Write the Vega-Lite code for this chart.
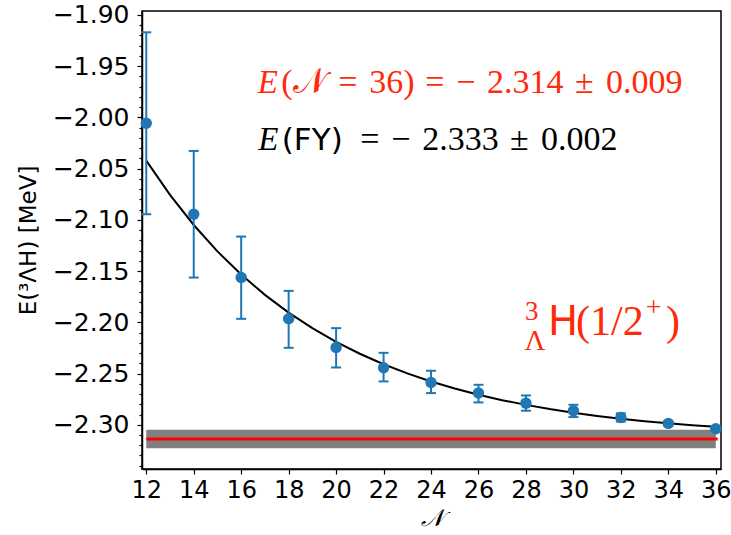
{
  "$schema": "https://vega.github.io/schema/vega-lite/v6.json",
  "width": 579,
  "height": 458,
  "autosize": {"type": "none"},
  "padding": {"left": 142, "top": 11, "right": 10, "bottom": 66},
  "background": "white",
  "data": {"values": [{}]},
  "config": {
    "view": {"stroke": "black", "strokeWidth": 1.5},
    "axis": {
      "domainColor": "black", "domainWidth": 1.5, "tickColor": "black", "tickWidth": 1.2,
      "labelFont": "DejaVu Sans", "labelFontSize": 24, "labelColor": "black", "labelOverlap": false,
      "titleFont": "DejaVu Sans", "titleFontWeight": "normal", "titleColor": "black", "grid": false
    },
    "text": {"font": "Liberation Serif", "fontSize": 34, "align": "left", "baseline": "alphabetic"}
  },
  "resolve": {"axis": {"y": "independent"}},
  "datasets": {
    "pts": [
      {"N": 12, "E": -2.0057, "lo": -2.0945, "hi": -1.9169},
      {"N": 14, "E": -2.0945, "lo": -2.1563, "hi": -2.0327},
      {"N": 16, "E": -2.1563, "lo": -2.1966, "hi": -2.1163},
      {"N": 18, "E": -2.1966, "lo": -2.2249, "hi": -2.1693},
      {"N": 20, "E": -2.2246, "lo": -2.2441, "hi": -2.2057},
      {"N": 22, "E": -2.2444, "lo": -2.2577, "hi": -2.2298},
      {"N": 24, "E": -2.2587, "lo": -2.2691, "hi": -2.2473},
      {"N": 26, "E": -2.2690, "lo": -2.2782, "hi": -2.2610},
      {"N": 28, "E": -2.2789, "lo": -2.2863, "hi": -2.2714},
      {"N": 30, "E": -2.2863, "lo": -2.2925, "hi": -2.2805},
      {"N": 32, "E": -2.2929, "lo": -2.2969, "hi": -2.2889},
      {"N": 34, "E": -2.2987, "lo": -2.3007, "hi": -2.2967},
      {"N": 36, "E": -2.3039, "lo": -2.3059, "hi": -2.3019}
    ],
    "fit": [
      {"N": 12, "E": -2.0421}, {"N": 13, "E": -2.0756}, {"N": 14, "E": -2.1050},
      {"N": 15, "E": -2.1308}, {"N": 16, "E": -2.1534}, {"N": 17, "E": -2.1732},
      {"N": 18, "E": -2.1905}, {"N": 19, "E": -2.2057}, {"N": 20, "E": -2.2190},
      {"N": 21, "E": -2.2307}, {"N": 22, "E": -2.2409}, {"N": 23, "E": -2.2499},
      {"N": 24, "E": -2.2578}, {"N": 25, "E": -2.2646}, {"N": 26, "E": -2.2707},
      {"N": 27, "E": -2.2760}, {"N": 28, "E": -2.2806}, {"N": 29, "E": -2.2847},
      {"N": 30, "E": -2.2882}, {"N": 31, "E": -2.2914}, {"N": 32, "E": -2.2941},
      {"N": 33, "E": -2.2965}, {"N": 34, "E": -2.2986}, {"N": 35, "E": -2.3004},
      {"N": 36, "E": -2.3020}
    ],
    "red1": [
      {"t": "(", "x": 17.687}, {"t": "=", "x": 20.088}, {"t": "36)", "x": 21.394},
      {"t": "=", "x": 23.752}, {"t": "−", "x": 25.058}, {"t": "2.314", "x": 26.364}, {"t": "±", "x": 30.071}, {"t": "0.009", "x": 31.377}
    ],
    "black2": [
      {"t": "=", "x": 21.014}, {"t": "−", "x": 22.32}, {"t": "2.333", "x": 23.626}, {"t": "±", "x": 27.333}, {"t": "0.002", "x": 28.639}
    ]
  },
  "layer": [
    {
      "mark": {"type": "rect", "color": "#808080"},
      "encoding": {
        "x": {"datum": 12, "type": "quantitative",
          "scale": {"domain": [11.82, 36.22], "nice": false, "zero": false},
          "axis": {"values": [12,14,16,18,20,22,24,26,28,30,32,34,36], "format": "d", "tickSize": 5,
            "labelPadding": 4, "labelOverlap": false, "title": "𝒩", "titleFont": "DejaVu Serif", "titleFontStyle": "italic",
            "titleFontSize": 24, "titlePadding": 4}},
        "x2": {"datum": 36},
        "y": {"datum": -2.305, "type": "quantitative",
          "scale": {"domain": [-2.3432, -1.8961], "nice": false, "zero": false},
          "axis": {
            "orient": "left",
            "values": [-2.30,-2.25,-2.20,-2.15,-2.10,-2.05,-2.00,-1.95,-1.90],
            "format": ".2f",
            "labelOverlap": false,
            "labelFontSize": 25,
            "tickSize": 5,
            "labelPadding": 8,
            "title": "E(³ΛH) [MeV]", "titleFontSize": 23, "titlePadding": 12}},
        "y2": {"datum": -2.323}
      }
    },
    {
      "mark": {"type": "point", "opacity": 0},
      "encoding": {
        "y": {"datum": -2.30, "type": "quantitative",
          "axis": {
            "orient": "left",
            "values": [-2.34,-2.33,-2.32,-2.31,-2.29,-2.28,-2.27,-2.26,-2.24,-2.23,-2.22,-2.21,-2.19,-2.18,-2.17,-2.16,-2.14,-2.13,-2.12,-2.11,-2.09,-2.08,-2.07,-2.06,-2.04,-2.03,-2.02,-2.01,-1.99,-1.98,-1.97,-1.96,-1.94,-1.93,-1.92,-1.91],
            "labels": false, "domain": false, "tickSize": 3, "title": null}}
      }
    },
    {
      "mark": {"type": "rule", "color": "#ff0000", "strokeWidth": 3},
      "encoding": {"x": {"datum": 12}, "x2": {"datum": 36.08}, "y": {"datum": -2.314, "axis": null}}
    },
    {
      "data": {"name": "fit"},
      "mark": {"type": "line", "color": "black", "strokeWidth": 2},
      "encoding": {"x": {"field": "N", "type": "quantitative"}, "y": {"field": "E", "type": "quantitative", "axis": null}}
    },
    {
      "data": {"name": "pts"},
      "mark": {"type": "rule", "color": "#1f77b4", "strokeWidth": 2},
      "encoding": {"x": {"field": "N", "type": "quantitative"}, "y": {"field": "lo", "type": "quantitative", "axis": null}, "y2": {"field": "hi"}}
    },
    {
      "data": {"name": "pts"},
      "mark": {"type": "tick", "color": "#1f77b4", "orient": "horizontal", "size": 10, "thickness": 2, "opacity": 1},
      "encoding": {"x": {"field": "N", "type": "quantitative"}, "y": {"field": "lo", "type": "quantitative", "axis": null}}
    },
    {
      "data": {"name": "pts"},
      "mark": {"type": "tick", "color": "#1f77b4", "orient": "horizontal", "size": 10, "thickness": 2, "opacity": 1},
      "encoding": {"x": {"field": "N", "type": "quantitative"}, "y": {"field": "hi", "type": "quantitative", "axis": null}}
    },
    {
      "data": {"name": "pts"},
      "mark": {"type": "circle", "color": "#1f77b4", "size": 130, "opacity": 1},
      "encoding": {"x": {"field": "N", "type": "quantitative"}, "y": {"field": "E", "type": "quantitative", "axis": null}}
    },
    {
      "mark": {"type": "text", "text": "E", "fontStyle": "italic", "fontSize": 33, "color": "#ff2a0a"},
      "encoding": {"x": {"datum": 16.70}, "y": {"datum": -1.9764, "axis": null}}
    },
    {
      "mark": {"type": "text", "text": "𝒩", "fontSize": 35, "color": "#ff2a0a"},
      "encoding": {"x": {"datum": 18.19}, "y": {"datum": -1.9764, "axis": null}}
    },
    {
      "data": {"name": "red1"},
      "mark": {"type": "text", "color": "#ff2a0a"},
      "encoding": {"x": {"field": "x", "type": "quantitative"}, "y": {"datum": -1.9764, "axis": null}, "text": {"field": "t"}}
    },
    {
      "mark": {"type": "text", "text": "E", "fontStyle": "italic", "fontSize": 33, "color": "black"},
      "encoding": {"x": {"datum": 16.72}, "y": {"datum": -2.0317, "axis": null}}
    },
    {
      "mark": {"type": "text", "text": "(FY)", "font": "DejaVu Sans", "fontSize": 31, "color": "black"},
      "encoding": {"x": {"datum": 17.71}, "y": {"datum": -2.0317, "axis": null}}
    },
    {
      "data": {"name": "black2"},
      "mark": {"type": "text", "color": "black"},
      "encoding": {"x": {"field": "x", "type": "quantitative"}, "y": {"datum": -2.0317, "axis": null}, "text": {"field": "t"}}
    },
    {
      "mark": {"type": "text", "text": "3", "fontSize": 27, "color": "#ff2a0a"},
      "encoding": {"x": {"datum": 27.96}, "y": {"datum": -2.1976, "axis": null}}
    },
    {
      "mark": {"type": "text", "text": "Λ", "fontSize": 29, "color": "#ff2a0a"},
      "encoding": {"x": {"datum": 27.94}, "y": {"datum": -2.2268, "axis": null}}
    },
    {
      "mark": {"type": "text", "text": "H", "font": "DejaVu Sans", "fontSize": 40, "color": "#ff2a0a"},
      "encoding": {"x": {"datum": 28.93}, "y": {"datum": -2.2122, "axis": null}}
    },
    {
      "mark": {"type": "text", "text": "(1/2", "fontSize": 42, "color": "#ff2a0a"},
      "encoding": {"x": {"datum": 30.11}, "y": {"datum": -2.2122, "axis": null}}
    },
    {
      "mark": {"type": "text", "text": "+", "fontSize": 28, "color": "#ff2a0a"},
      "encoding": {"x": {"datum": 33.05}, "y": {"datum": -2.1943, "axis": null}}
    },
    {
      "mark": {"type": "text", "text": ")", "fontSize": 42, "color": "#ff2a0a"},
      "encoding": {"x": {"datum": 33.9}, "y": {"datum": -2.2122, "axis": null}}
    }
  ]
}
